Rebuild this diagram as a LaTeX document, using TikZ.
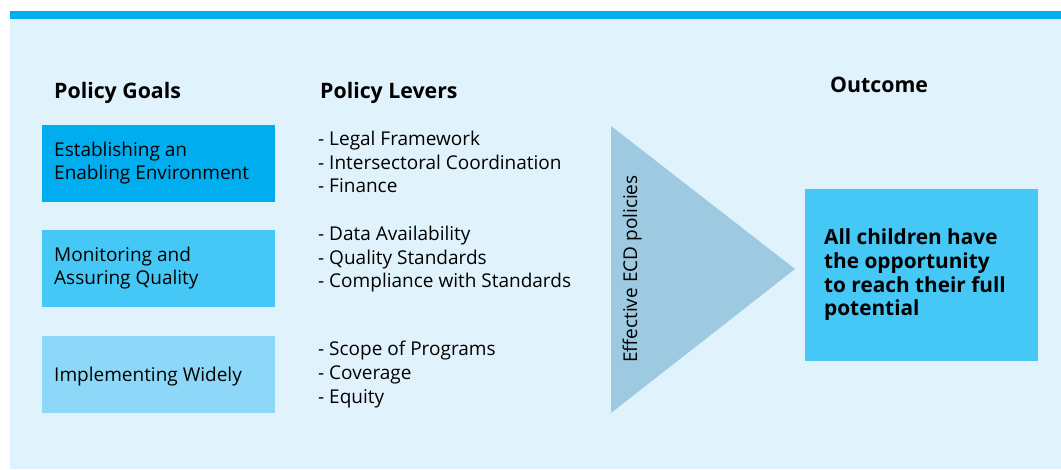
\documentclass[tikz,border=0pt]{standalone}
\usepackage{fontspec}
\setmainfont{Open Sans}
\definecolor{panel}{HTML}{E0F2FC}
\definecolor{bar}{HTML}{00AEEF}
\definecolor{goalA}{HTML}{00AEEF}
\definecolor{goalB}{HTML}{45C8F5}
\definecolor{goalC}{HTML}{8DD8F8}
\definecolor{outc}{HTML}{45C8F5}
\definecolor{tri}{HTML}{9DCAE1}
\tikzset{
  head/.style={anchor=base west, inner sep=0pt, font=\fontsize{21.3}{24}\selectfont\bfseries},
  txt/.style={anchor=base west, inner sep=0pt, font=\fontsize{19}{23.7}\selectfont, align=left},
  btxt/.style={anchor=base west, inner sep=0pt, font=\fontsize{20.8}{23.7}\selectfont\bfseries, align=left},
  goalbox/.style={rectangle, inner sep=0pt, minimum width=233pt, minimum height=77pt, anchor=north west},
}
\begin{document}
\begin{tikzpicture}[x=1pt,y=-1pt]
\useasboundingbox (0,0) rectangle (1061,470);
\fill[white] (0,0) rectangle (1061,470);
\fill[panel] (10,11) rectangle (1061,469);
\fill[bar] (10,11) rectangle (1061,19);
% headings
\node[head] (hg) at (54,99) {Policy Goals};
\node[head] (hl) at (320,99) {Policy Levers};
\node[head] (ho) at (830,93) {Outcome};
% goal boxes
\node[goalbox, fill=goalA] (g1) at (42,125) {};
\node[goalbox, fill=goalB] (g2) at (42,230) {};
\node[goalbox, fill=goalC] (g3) at (42,336) {};
\node[txt] (g1t) at (54,180) {Establishing an\\Enabling Environment};
\node[txt] (g2t) at (54,285) {Monitoring and\\Assuring Quality};
\node[txt] (g3t) at (54,382) {Implementing Widely};
% levers
\node[txt] (l1) at (318,193) {- Legal Framework\\- Intersectoral Coordination\\- Finance};
\node[txt] (l2) at (318,288) {- Data Availability\\- Quality Standards\\- Compliance with Standards};
\node[txt] (l3) at (318,403) {- Scope of Programs\\- Coverage\\- Equity};
% triangle
\fill[tri] (611,126) -- (795,269) -- (611,413) -- cycle;
\node[anchor=base, inner sep=0pt, rotate=90, font=\fontsize{19}{22}\selectfont] (tt) at (637,269) {Effective ECD policies};
% outcome
\node[rectangle, inner sep=0pt, fill=outc, minimum width=233pt, minimum height=172pt, anchor=north west] (ob) at (805,189) {};
\node[btxt] (ot) at (824,316) {All children have\\the opportunity\\to reach their full\\potential};
\end{tikzpicture}
\end{document}
